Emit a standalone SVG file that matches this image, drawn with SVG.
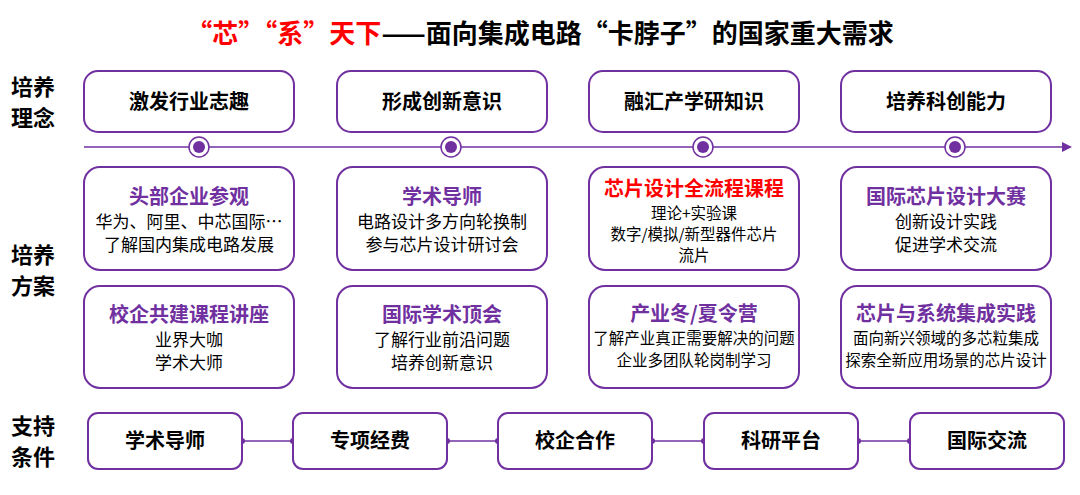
<svg xmlns="http://www.w3.org/2000/svg" width="1080" height="495" viewBox="0 0 1080 495">
<style>
.b{fill:#fff;stroke:#7030a0;stroke-width:2}
text{font-family:"Noto Sans CJK SC",sans-serif;text-anchor:middle}
.h{font-size:20px;font-weight:bold;fill:#000}
.t{font-size:20px;font-weight:bold;fill:#7030a0}
.s{font-size:17px;fill:#000}
.n{font-size:15.5px;fill:#000}
.l{font-size:22px;font-weight:bold;fill:#000}
</style>
<rect width="1080" height="495" fill="#fff"/>
<text x="540" y="43" font-size="26" font-weight="bold"><tspan fill="#ff0000">“芯”“系”天下</tspan><tspan fill="#000">——面向集成电路“卡脖子”的国家重大需求</tspan></text>
<g id="labels">
<text class="l" x="33" y="95">培养</text><text class="l" x="33" y="126">理念</text>
<text class="l" x="33" y="263">培养</text><text class="l" x="33" y="294">方案</text>
<text class="l" x="33" y="434">支持</text><text class="l" x="33" y="465">条件</text>
</g>
<g id="connectors" stroke="#7030a0" stroke-width="1.5" fill="#7030a0">
<line x1="84" y1="147" x2="1062" y2="147"/>
<path d="M1072 147 L1062 142 L1062 152 Z" stroke="none"/>
<line x1="242" y1="441" x2="293" y2="441"/><line x1="447" y1="441" x2="498" y2="441"/><line x1="652" y1="441" x2="704" y2="441"/><line x1="858" y1="441" x2="910" y2="441"/>
<g stroke="none"><circle cx="242" cy="441" r="3"/><circle cx="293" cy="441" r="3"/><circle cx="447" cy="441" r="3"/><circle cx="498" cy="441" r="3"/><circle cx="652" cy="441" r="3"/><circle cx="704" cy="441" r="3"/><circle cx="858" cy="441" r="3"/><circle cx="910" cy="441" r="3"/></g>
<g fill="#fff"><circle cx="199" cy="147" r="10"/><circle cx="451" cy="147" r="10"/><circle cx="703" cy="147" r="10"/><circle cx="955" cy="147" r="10"/></g>
<g stroke="none"><circle cx="199" cy="147" r="6"/><circle cx="451" cy="147" r="6"/><circle cx="703" cy="147" r="6"/><circle cx="955" cy="147" r="6"/></g>
</g>
<g id="p1"><rect class="b" x="84" y="71" width="210" height="61" rx="14"/><text class="h" x="189" y="109">激发行业志趣</text></g>
<g id="p2"><rect class="b" x="337" y="71" width="210" height="61" rx="14"/><text class="h" x="442" y="109">形成创新意识</text></g>
<g id="p3"><rect class="b" x="589" y="71" width="210" height="61" rx="14"/><text class="h" x="694" y="109">融汇产学研知识</text></g>
<g id="p4"><rect class="b" x="841" y="71" width="210" height="61" rx="14"/><text class="h" x="946" y="109">培养科创能力</text></g>
<g id="a1"><rect class="b" x="84" y="167" width="210" height="103" rx="16"/><text class="t" x="189" y="204">头部企业参观</text><text class="s" x="189" y="228">华为、阿里、中芯国际…</text><text class="s" x="189" y="251">了解国内集成电路发展</text></g>
<g id="a2"><rect class="b" x="337" y="167" width="210" height="103" rx="16"/><text class="t" x="442" y="204">学术导师</text><text class="s" x="442" y="228">电路设计多方向轮换制</text><text class="s" x="442" y="251">参与芯片设计研讨会</text></g>
<g id="a3"><rect class="b" x="589" y="167" width="210" height="103" rx="16"/><text class="t" x="694" y="196" style="fill:#ff0000">芯片设计全流程课程</text><text class="n" x="694" y="219">理论+实验课</text><text class="n" x="694" y="240">数字/模拟/新型器件芯片</text><text class="n" x="694" y="261">流片</text></g>
<g id="a4"><rect class="b" x="841" y="167" width="210" height="103" rx="16"/><text class="t" x="946" y="204">国际芯片设计大赛</text><text class="s" x="946" y="228">创新设计实践</text><text class="s" x="946" y="251">促进学术交流</text></g>
<g id="b1"><rect class="b" x="84" y="286" width="210" height="102" rx="16"/><text class="t" x="189" y="322">校企共建课程讲座</text><text class="s" x="189" y="346">业界大咖</text><text class="s" x="189" y="369">学术大师</text></g>
<g id="b2"><rect class="b" x="337" y="286" width="210" height="102" rx="16"/><text class="t" x="442" y="322">国际学术顶会</text><text class="s" x="442" y="346">了解行业前沿问题</text><text class="s" x="442" y="369">培养创新意识</text></g>
<g id="b3"><rect class="b" x="589" y="286" width="210" height="102" rx="16"/><text class="t" x="694" y="321">产业冬/夏令营</text><text class="n" x="694" y="344">了解产业真正需要解决的问题</text><text class="n" x="694" y="366">企业多团队轮岗制学习</text></g>
<g id="b4"><rect class="b" x="841" y="286" width="210" height="102" rx="16"/><text class="t" x="946" y="321">芯片与系统集成实践</text><text class="n" x="946" y="344">面向新兴领域的多芯粒集成</text><text class="n" x="946" y="366">探索全新应用场景的芯片设计</text></g>
<g id="c1"><rect class="b" x="88" y="413" width="154" height="56" rx="10"/><text class="h" x="165" y="448">学术导师</text></g>
<g id="c2"><rect class="b" x="293" y="413" width="154" height="56" rx="10"/><text class="h" x="370" y="448">专项经费</text></g>
<g id="c3"><rect class="b" x="498" y="413" width="154" height="56" rx="10"/><text class="h" x="575" y="448">校企合作</text></g>
<g id="c4"><rect class="b" x="704" y="413" width="154" height="56" rx="10"/><text class="h" x="781" y="448">科研平台</text></g>
<g id="c5"><rect class="b" x="910" y="413" width="154" height="56" rx="10"/><text class="h" x="987" y="448">国际交流</text></g>
</svg>
